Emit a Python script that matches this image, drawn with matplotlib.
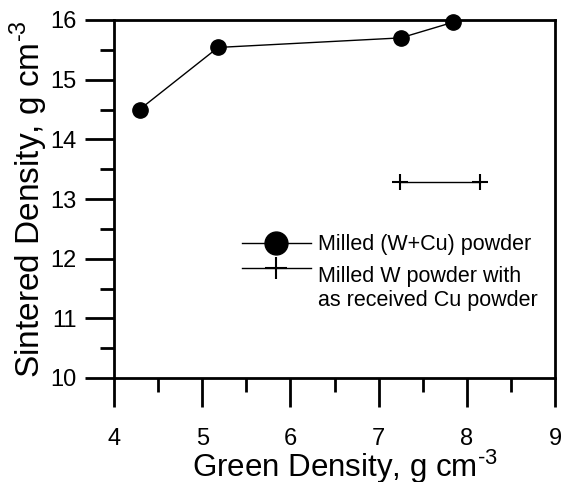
import matplotlib
matplotlib.use("Agg")
import matplotlib.pyplot as plt
import numpy as np
from matplotlib.ticker import MultipleLocator
from matplotlib.legend_handler import HandlerLine2D

plt.rcParams['font.family'] = ['Liberation Sans', 'DejaVu Sans']
plt.rcParams['mathtext.fontset'] = 'custom'
plt.rcParams['mathtext.rm'] = 'Liberation Sans'

# data
milled_wcu_green = [4.29, 5.18, 7.25, 7.84]
milled_wcu_sintered = [14.50, 15.54, 15.70, 15.96]
milled_w_green = [7.24, 8.15]
milled_w_sintered = [13.28, 13.28]


class RaisedHandler(HandlerLine2D):
    # put the legend line level with the first text line, not the middle
    def create_artists(self, legend, orig_handle, xdescent, ydescent, width,
                       height, fontsize, trans):
        arts = super().create_artists(legend, orig_handle, xdescent, ydescent,
                                      width, height, fontsize, trans)
        for a in arts:
            a.set_ydata(np.asarray(a.get_ydata()) + 15)
        return arts


fig = plt.figure(figsize=(5.66, 4.82), dpi=100)
ax = fig.add_axes([114 / 566, 1 - 378 / 482, (555 - 114) / 566, (378 - 20) / 482])

ax.plot(milled_wcu_green, milled_wcu_sintered, '-o', color='black', lw=1.0,
        markersize=11, label='Milled (W+Cu) powder', clip_on=False, zorder=5)
line2, = ax.plot(milled_w_green, milled_w_sintered, '-+', color='black', lw=1.0,
                 markersize=11, mew=1.5, label='Milled W powder with\nas received Cu powder')

ax.set_xlim(4, 9)
ax.set_ylim(10, 16)
ax.xaxis.set_major_locator(MultipleLocator(1))
ax.xaxis.set_minor_locator(MultipleLocator(0.5))
ax.yaxis.set_major_locator(MultipleLocator(1))
ax.yaxis.set_minor_locator(MultipleLocator(0.5))
ax.tick_params(which='major', direction='out', length=21, width=2, labelsize=17)
ax.tick_params(axis='x', which='major', pad=15)
ax.tick_params(axis='y', which='major', pad=6)
ax.tick_params(which='minor', direction='out', length=10, width=2)
for s in ax.spines.values():
    s.set_linewidth(2)

ax.set_xlabel(r'Green Density, g cm$^{\text{-3}}$', fontsize=22.5, labelpad=-2, x=0.523)
ax.set_ylabel(r'Sintered Density, g cm$^{\text{-3}}$', fontsize=24, labelpad=0)

leg = ax.legend(loc='upper left', bbox_to_anchor=(0.246, 0.455), frameon=False,
                fontsize=15.5, markerscale=1.5, handlelength=3.2,
                handletextpad=0.33, labelspacing=0.5,
                handler_map={line2: RaisedHandler()})

fig.savefig('out.png', dpi=100)
